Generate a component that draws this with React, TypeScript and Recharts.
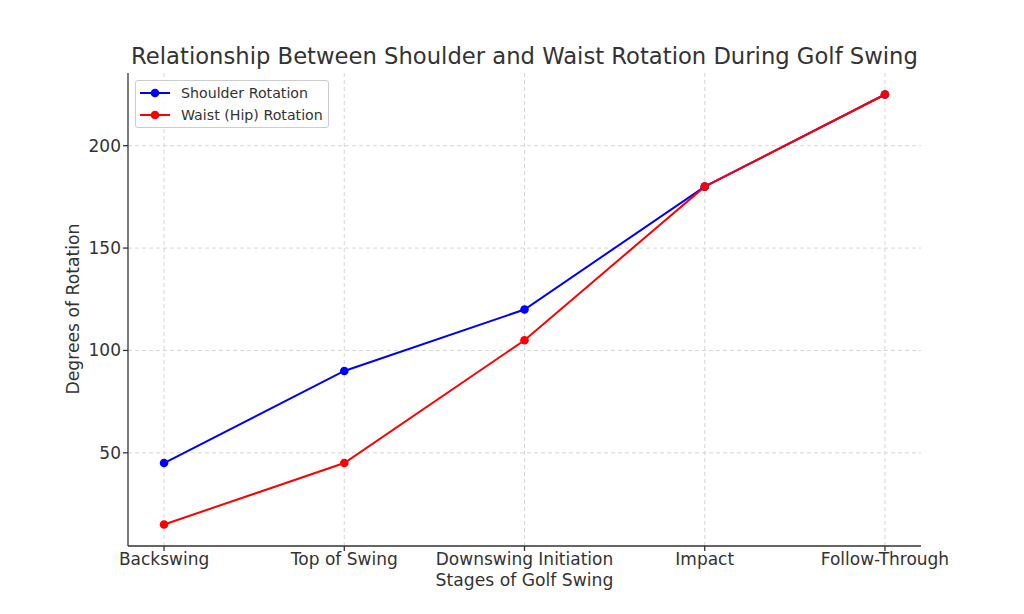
import React from 'react';
import { LineChart, Line, XAxis, YAxis, CartesianGrid } from 'recharts';

const stages = ['Backswing', 'Top of Swing', 'Downswing Initiation', 'Impact', 'Follow-Through'];
const shoulderRotation = [45, 90, 120, 180, 225];
const waistRotation = [15, 45, 105, 180, 225];
const yTicks = [50, 100, 150, 200];
const xTicks = [0, 1, 2, 3, 4];
const yDomain: [number, number] = [4.5, 235.5];
const xDomain: [number, number] = [-0.2, 4.2];

const series = [
  { key: 'shoulder', name: 'Shoulder Rotation', color: '#0000ff' },
  { key: 'waist', name: 'Waist (Hip) Rotation', color: '#ff0000' },
];

const data = stages.map((stage, i) => ({
  idx: i,
  stage,
  shoulder: shoulderRotation[i],
  waist: waistRotation[i],
}));

const font = 'DejaVu Sans, sans-serif';
const textColor = '#333';

// grid only at the tick values (not at the domain edges)
const hGrid = (p: any) => {
  const o = p.offset;
  return yTicks.map((t) => o.top + (o.height * (yDomain[1] - t)) / (yDomain[1] - yDomain[0]));
};
const vGrid = (p: any) => {
  const o = p.offset;
  return xTicks.map((t) => o.left + (o.width * (t - xDomain[0])) / (xDomain[1] - xDomain[0]));
};

const LegendBox = () => (
  <div
    style={{
      position: 'absolute',
      left: 135,
      top: 80,
      border: '1px solid #ccc',
      borderRadius: 3,
      background: 'rgba(255,255,255,0.8)',
      padding: '1px 5px 1px 4px',
      fontFamily: font,
      fontSize: 14.2,
      color: textColor,
      zIndex: 2,
    }}
  >
    {series.map((s) => (
      <div key={s.key} style={{ display: 'flex', alignItems: 'center', height: 22 }}>
        <svg width={30} height={10} style={{ marginRight: 11 }}>
          <line x1={0} y1={5} x2={30} y2={5} stroke={s.color} strokeWidth={2} />
          <circle cx={15} cy={5} r={4.3} fill={s.color} />
        </svg>
        <span>{s.name}</span>
      </div>
    ))}
  </div>
);

export default function App() {
  return (
    <div style={{ position: 'absolute', left: 0, top: 0, width: 1024, height: 614, background: '#fff' }}>
      <div
        style={{
          position: 'absolute',
          top: 43,
          left: 128,
          width: 793,
          textAlign: 'center',
          fontFamily: font,
          fontSize: 22.7,
          color: textColor,
          whiteSpace: 'nowrap',
        }}
      >
        Relationship Between Shoulder and Waist Rotation During Golf Swing
      </div>
      <LegendBox />
      <LineChart width={1024} height={614} data={data} margin={{ top: 73, right: 103, bottom: 0, left: 0 }}>
        <CartesianGrid
          stroke="#ccc"
          strokeDasharray="4 3"
          strokeWidth={0.8}
          horizontalCoordinatesGenerator={hGrid}
          verticalCoordinatesGenerator={vGrid}
        />
        <XAxis
          dataKey="idx"
          type="number"
          domain={xDomain}
          ticks={xTicks}
          tickFormatter={(v: number) => stages[v]}
          stroke={textColor}
          strokeWidth={1.3}
          tickSize={5}
          tick={{ fill: textColor, fontSize: 17, fontFamily: font }}
          height={68}
          label={{ value: 'Stages of Golf Swing', position: 'insideTop', offset: 28, fill: textColor, fontSize: 17.2, fontFamily: font }}
        />
        <YAxis
          type="number"
          domain={yDomain}
          ticks={yTicks}
          allowDataOverflow
          stroke={textColor}
          strokeWidth={1.3}
          tickSize={5}
          width={128}
          tick={{ fill: textColor, fontSize: 17, fontFamily: font }}
          label={{ value: 'Degrees of Rotation', angle: -90, position: 'insideLeft', offset: 73, dy: 85, fill: textColor, fontSize: 17.2, fontFamily: font }}
        />
        {series.map((s) => (
          <Line
            key={s.key}
            type="linear"
            dataKey={s.key}
            name={s.name}
            stroke={s.color}
            strokeWidth={2}
            dot={{ r: 4.3, fill: s.color, stroke: s.color, strokeWidth: 0 }}
            isAnimationActive={false}
          />
        ))}
      </LineChart>
    </div>
  );
}
